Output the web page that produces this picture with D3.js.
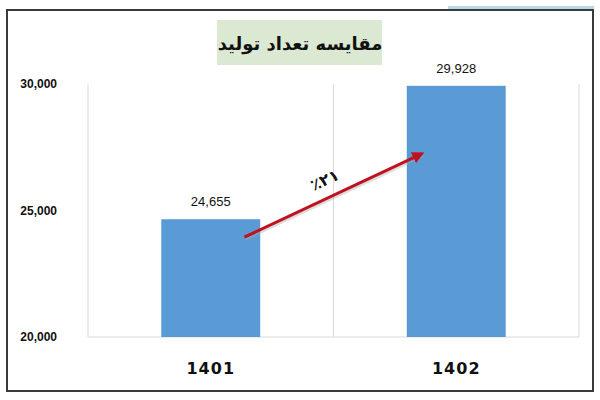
<!DOCTYPE html>
<html>
<head>
<meta charset="utf-8">
<script src="https://cdn.jsdelivr.net/npm/d3@7"></script>
<style>
  body { margin: 0; background: #fff; }
</style>
</head>
<body>
<script>
// données du graphique
const annees = ["1401", "1402"];
const valeurs = [24655, 29928];
const graduations = [20000, 25000, 30000];
const titre = "مقایسه تعداد تولید";
const croissance = "٪۲۱";

let canevas = d3.select("body")
    .append("svg")
    .attr("width", 600)
    .attr("height", 400);

// bande bleue en haut à droite
canevas.append("rect")
    .attr("x", 448)
    .attr("y", 6)
    .attr("width", 146)
    .attr("height", 3)
    .attr("fill", "#b9d7ea");

// cadre
canevas.append("rect")
    .attr("x", 7)
    .attr("y", 10)
    .attr("width", 586)
    .attr("height", 381)
    .attr("fill", "white")
    .attr("stroke", "#3a3a3a")
    .attr("stroke-width", 2);

// échelles
const x = d3.scaleBand()
    .domain(annees)
    .range([88, 579])
    .paddingInner(0.597)
    .paddingOuter(0.2985);

const y = d3.scaleLinear()
    .domain([20000, 30000])
    .range([337, 84]);

// grille verticale entre catégories
const bords = [88, 88 + x.step(), 579];
canevas.selectAll("line.grille")
    .data(bords)
    .enter()
    .append("line")
    .attr("class", "grille")
    .attr("x1", d => d)
    .attr("x2", d => d)
    .attr("y1", y(30000))
    .attr("y2", y(20000))
    .attr("stroke", "#d9d9d9")
    .attr("stroke-width", 1);

// axe horizontal
canevas.append("line")
    .attr("x1", 88)
    .attr("x2", 579)
    .attr("y1", y(20000))
    .attr("y2", y(20000))
    .attr("stroke", "#d9d9d9");

// axe des y
const axeY = canevas.append("g")
    .attr("transform", "translate(57,0)")
    .call(d3.axisLeft(y).tickValues(graduations).tickSize(0).tickFormat(d3.format(",")));
axeY.select(".domain").remove();
axeY.selectAll("text")
    .attr("x", 0)
    .style("font-family", "Liberation Sans, Arial")
    .style("font-size", "12px")
    .style("font-weight", "bold")
    .style("fill", "#111");

// axe des x
const axeX = canevas.append("g")
    .attr("transform", "translate(0," + y(20000) + ")")
    .call(d3.axisBottom(x).tickSize(0));
axeX.select(".domain").remove();
axeX.selectAll("text")
    .attr("y", 37)
    .attr("dy", 0)
    .style("font-family", "DejaVu Sans, sans-serif")
    .style("font-size", "16px")
    .style("font-weight", "bold")
    .style("letter-spacing", "1px")
    .style("fill", "#111");

// barres
canevas.selectAll("rect.barre")
    .data(annees)
    .enter()
    .append("rect")
    .attr("class", "barre")
    .attr("x", d => x(d))
    .attr("y", (d, i) => y(valeurs[i]))
    .attr("width", x.bandwidth())
    .attr("height", (d, i) => y(20000) - y(valeurs[i]))
    .style("fill", "#5b9bd5");

// étiquettes des valeurs
canevas.selectAll("text.valeur")
    .data(annees)
    .enter()
    .append("text")
    .attr("class", "valeur")
    .attr("x", d => x(d) + x.bandwidth() / 2)
    .attr("y", (d, i) => y(valeurs[i]) - 13)
    .attr("text-anchor", "middle")
    .style("font-family", "Liberation Sans, Arial")
    .style("font-size", "13px")
    .style("fill", "#111")
    .text((d, i) => d3.format(",")(valeurs[i]));

// titre
canevas.append("rect")
    .attr("x", 217)
    .attr("y", 20)
    .attr("width", 165)
    .attr("height", 45)
    .attr("fill", "#dbe9d3");

canevas.append("text")
    .attr("x", 300)
    .attr("y", 50)
    .attr("text-anchor", "middle")
    .attr("direction", "rtl")
    .style("font-family", "DejaVu Sans, Noto Sans, sans-serif")
    .style("font-size", "18px")
    .style("font-weight", "bold")
    .style("fill", "#111")
    .text(titre);

// flèche de croissance
canevas.append("defs")
    .append("marker")
    .attr("id", "pointe")
    .attr("viewBox", "0 0 10 10")
    .attr("refX", 8)
    .attr("refY", 5)
    .attr("markerWidth", 4)
    .attr("markerHeight", 4)
    .attr("orient", "auto")
    .append("path")
    .attr("d", "M0,0 L10,5 L0,10 Z")
    .attr("fill", "#c0111f");

const xa = x(annees[0]) + x.bandwidth() * 0.84;
const ya = y(valeurs[0]) + 18;
const xb = x(annees[1]) + x.bandwidth() * 0.155;
const yb = y(27250);

canevas.append("line")
    .attr("x1", xa + 1)
    .attr("y1", ya + 2)
    .attr("x2", xb + 1)
    .attr("y2", yb + 2)
    .attr("stroke", "#aaa")
    .attr("stroke-width", 3)
    .attr("opacity", 0.4);

canevas.append("line")
    .attr("x1", xa)
    .attr("y1", ya)
    .attr("x2", xb)
    .attr("y2", yb)
    .attr("stroke", "#c0111f")
    .attr("stroke-width", 3)
    .attr("marker-end", "url(#pointe)");

const angle = Math.atan2(yb - ya, xb - xa) * 180 / Math.PI;
canevas.append("text")
    .attr("transform", "translate(327,185) rotate(" + angle + ")")
    .attr("text-anchor", "middle")
    .style("font-family", "DejaVu Sans, sans-serif")
    .style("font-size", "16px")
    .style("font-weight", "bold")
    .style("fill", "#111")
    .text(croissance);
</script>
</body>
</html>
